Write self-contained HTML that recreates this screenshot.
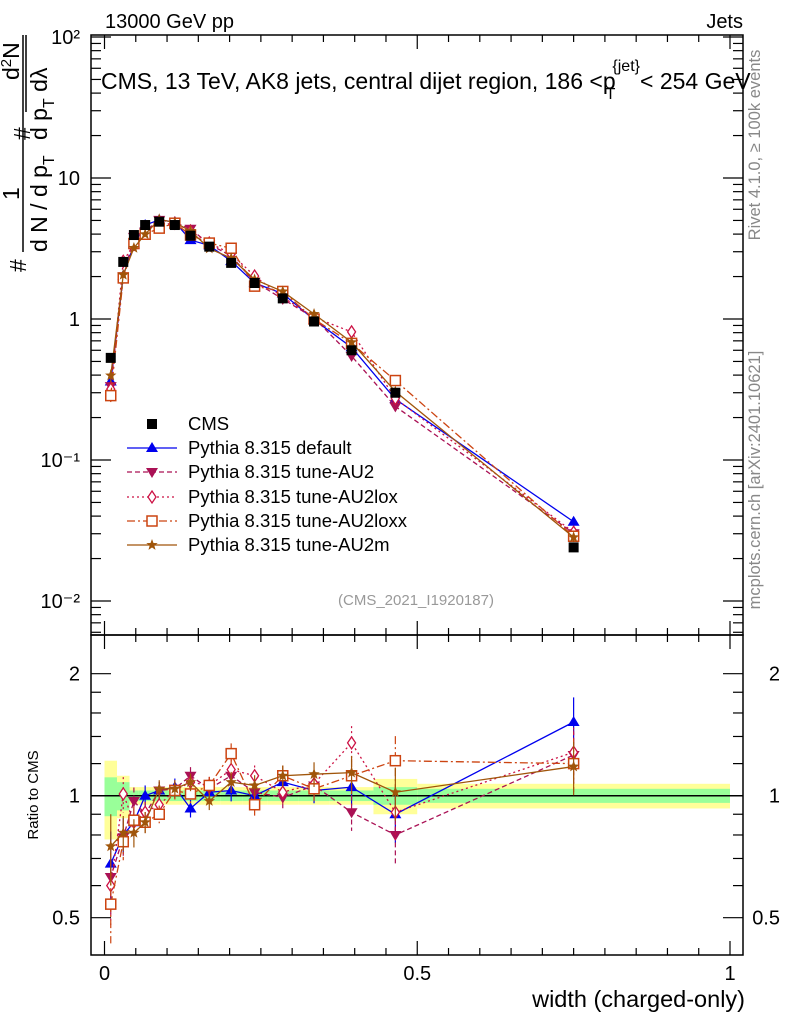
<!DOCTYPE html>
<html><head><meta charset="utf-8"><style>
body{margin:0;background:#fff}
svg{display:block;font-family:"Liberation Sans",sans-serif}
</style></head><body>
<svg id="chart" width="786" height="1024" viewBox="0 0 786 1024" xmlns="http://www.w3.org/2000/svg">
<text x="105" y="28" font-size="20">13000 GeV pp</text>
<text x="743" y="28" font-size="20" text-anchor="end">Jets</text>
<text x="101" y="89" font-size="23">CMS, 13 TeV, AK8 jets, central dijet region, 186 &lt;p<tspan font-size="16" dy="10" dx="-10">T</tspan><tspan font-size="16" dy="-28" dx="-3">{jet}</tspan><tspan dy="18">&lt; 254 GeV</tspan></text>
<text x="416" y="605" font-size="15" fill="#999" text-anchor="middle">(CMS_2021_I1920187)</text>
<text transform="translate(760,145) rotate(-90)" font-size="16.5" fill="#888" text-anchor="middle">Rivet 4.1.0, ≥ 100k events</text>
<text transform="translate(760,480) rotate(-90)" font-size="16.5" fill="#888" text-anchor="middle">mcplots.cern.ch [arXiv:2401.10621]</text>
<g font-size="23">
<text transform="translate(26,272) rotate(-90)">#</text>
<line x1="23" y1="35" x2="23" y2="252" stroke="#000" stroke-width="1.5"/>
<text transform="translate(19,200) rotate(-90)">1</text>
<text transform="translate(47,252) rotate(-90)">d N / d p<tspan font-size="16" dy="7">T</tspan></text>
<text transform="translate(30,140) rotate(-90)">#</text>
<line x1="26" y1="35" x2="26" y2="112" stroke="#000" stroke-width="1.5"/>
<text transform="translate(19,80) rotate(-90)">d<tspan font-size="15" dy="-8">2</tspan><tspan dy="8">N</tspan></text>
<text transform="translate(47,140) rotate(-90)">d p<tspan font-size="16" dy="7">T</tspan><tspan dy="-7"> dλ</tspan></text>
</g>
<text transform="translate(38,795) rotate(-90)" font-size="15" text-anchor="middle">Ratio to CMS</text>
<text x="745" y="1007" font-size="23.5" text-anchor="end">width (charged-only)</text>
<g id="layer"></g>
</svg>
<script>
const xCenters=[0.01,0.03,0.047,0.065,0.0875,0.1125,0.1375,0.1675,0.2025,0.24,0.285,0.335,0.395,0.465,0.75];
const binEdges=[0,0.02,0.04,0.055,0.075,0.1,0.125,0.15,0.185,0.22,0.26,0.31,0.36,0.43,0.5,1.0];
const cmsValues=[0.53,2.54,3.94,4.64,4.9,4.64,3.9,3.26,2.5,1.8,1.4,0.96,0.6,0.30,0.024];
const bandStat=[0.11,0.08,0.03,0.03,0.03,0.03,0.03,0.03,0.03,0.03,0.03,0.03,0.03,0.05,0.04];
const bandTot=[0.22,0.12,0.05,0.05,0.05,0.05,0.05,0.05,0.05,0.05,0.05,0.05,0.05,0.1,0.07];
const ratioDefault=[0.68,0.80,0.86,1.0,1.03,1.05,0.93,1.02,1.03,1.0,1.08,1.03,1.05,0.90,1.52];
const ratioAU2=[0.63,0.79,0.97,0.9,1.03,1.04,1.12,1.04,1.12,1.02,0.99,1.06,0.91,0.80,1.26];
const ratioAU2lox=[0.60,1.01,0.86,0.91,0.95,1.03,1.08,1.06,1.16,1.12,1.02,1.07,1.35,0.91,1.28];
const ratioAU2loxx=[0.54,0.77,0.87,0.86,0.90,1.03,1.01,1.06,1.27,0.95,1.12,1.04,1.12,1.22,1.2];
const ratioAU2m=[0.75,0.81,0.81,0.86,1.04,1.04,1.08,0.97,1.08,1.06,1.12,1.13,1.14,1.02,1.18];
const relErr=[0.2,0.1,0.08,0.06,0.05,0.05,0.05,0.05,0.06,0.06,0.06,0.07,0.1,0.15,0.15];
const xTicks=[0,0.5,1];
const xTickLabels=["0","0.5","1"];
const mainTicks=[100,10,1,0.1,0.01];
const mainTickLabels=["10²","10","1","10⁻¹","10⁻²"];
const ratioTicks=[2,1,0.5];
const ratioTickLabels=["2","1","0.5"];

const NS="http://www.w3.org/2000/svg";
const L=91,R=743,T=35,MB=635,RB=955;
const X=v=>104.5+v*625.5;
const Y=v=>319-141*Math.log10(v);
const YR=v=>795.7-122*Math.log2(v);
const layer=document.getElementById('layer');
function mk(tag,attrs,parent){const e=document.createElementNS(NS,tag);for(const k in attrs)e.setAttribute(k,attrs[k]);(parent||layer).appendChild(e);return e;}

const bands=mk('g',{});


for(let i=0;i<cmsValues.length;i++){
  const x1=X(binEdges[i]),x2=X(binEdges[i+1]);
  const r=mk('rect',{x:x1,y:YR(1+bandTot[i]),width:x2-x1,height:YR(1-bandTot[i])-YR(1+bandTot[i]),fill:'#ffff99'},bands);
  
  
  const g=mk('rect',{x:x1,y:YR(1+bandStat[i]),width:x2-x1,height:YR(1-bandStat[i])-YR(1+bandStat[i]),fill:'#99ff99'},bands);
  
  
}
const ref=mk('line',{x1:L,x2:R,y1:YR(1),y2:YR(1),stroke:'#000','stroke-width':1.5});



function marker(g,type,x,y,col){
  let e;
  if(type==='sq') e=mk('rect',{x:x-5,y:y-5,width:10,height:10,fill:'#000'},g);
  else if(type==='tri') e=mk('path',{d:`M${x},${y-6}L${x+6},${y+4}L${x-6},${y+4}Z`,fill:col},g);
  else if(type==='dtri') e=mk('path',{d:`M${x},${y+6}L${x+6},${y-4}L${x-6},${y-4}Z`,fill:col},g);
  else if(type==='dia') e=mk('path',{d:`M${x},${y-6}L${x+4},${y}L${x},${y+6}L${x-4},${y}Z`,fill:'#fff',stroke:col,'stroke-width':1.3},g);
  else if(type==='osq') e=mk('rect',{x:x-5,y:y-5,width:10,height:10,fill:'#fff',stroke:col,'stroke-width':1.5},g);
  else { let p='';for(let k=0;k<10;k++){const a=-Math.PI/2+k*Math.PI/5,rr=k%2?2.5:6;p+=(k?'L':'M')+(x+rr*Math.cos(a))+','+(y+rr*Math.sin(a));}
    e=mk('path',{d:p+'Z',fill:col},g);}
  return e;
}

const series=[
 {name:'default',r:ratioDefault,col:'#0000ee',dash:'',m:'tri',label:'Pythia 8.315 default'},
 {name:'au2',r:ratioAU2,col:'#aa1155',dash:'5,3',m:'dtri',label:'Pythia 8.315 tune-AU2'},
 {name:'au2lox',r:ratioAU2lox,col:'#cc1144',dash:'2,3',m:'dia',label:'Pythia 8.315 tune-AU2lox'},
 {name:'au2loxx',r:ratioAU2loxx,col:'#cc4411',dash:'8,3,2,3',m:'osq',label:'Pythia 8.315 tune-AU2loxx'},
 {name:'au2m',r:ratioAU2m,col:'#a0550a',dash:'',m:'star',label:'Pythia 8.315 tune-AU2m'}
];

series.forEach(s=>{
  const g=mk('g',{});
  
  
  const vals=cmsValues.map((c,i)=>c*s.r[i]);
  mk('polyline',{points:vals.map((v,i)=>X(xCenters[i])+','+Y(v)).join(' '),fill:'none',stroke:s.col,'stroke-width':1.3,'stroke-dasharray':s.dash},g);
  mk('polyline',{points:s.r.map((v,i)=>X(xCenters[i])+','+YR(v)).join(' '),fill:'none',stroke:s.col,'stroke-width':1.3,'stroke-dasharray':s.dash},g);
  vals.forEach((v,i)=>{
    const x=X(xCenters[i]);
    mk('line',{x1:x,x2:x,y1:Y(v*(1+relErr[i]*0.5)),y2:Y(v*(1-relErr[i]*0.5)),stroke:s.col,'stroke-width':1.2},g);
    const p=marker(g,s.m,x,Y(v),s.col);
    
    
    const rv=s.r[i];
    mk('line',{x1:x,x2:x,y1:YR(rv*(1+relErr[i])),y2:YR(rv*(1-relErr[i])),stroke:s.col,'stroke-width':1.2,'stroke-dasharray':s.dash},g);
    const q=marker(g,s.m,x,YR(rv),s.col);
    
    
  });
});
const cg=mk('g',{});


cmsValues.forEach((v,i)=>{
  const p=marker(cg,'sq',X(xCenters[i]),Y(v),'#000');
  
  
});

const lg=mk('g',{});


const ly=[424,448,472,497,521,545];
const cmsLe=mk('g',{},lg);


marker(cmsLe,'sq',152,ly[0],'#000');
mk('text',{x:188,y:ly[0]+6,'font-size':18.5},cmsLe).textContent='CMS';
series.forEach((s,k)=>{
  const e=mk('g',{},lg);
  
  
  const y=ly[k+1];
  mk('line',{x1:127,x2:177,y1:y,y2:y,stroke:s.col,'stroke-width':1.3,'stroke-dasharray':s.dash},e);
  marker(e,s.m,152,y,s.col);
  mk('text',{x:188,y:y+6,'font-size':18.5},e).textContent=s.label;
});

const fr=mk('g',{fill:'none',stroke:'#000','stroke-width':1.5});


mk('rect',{x:L,y:T,width:R-L,height:MB-T},fr);
mk('rect',{x:L,y:MB,width:R-L,height:RB-MB},fr);

const ax=mk('g',{stroke:'#000','stroke-width':1.2});


for(let k=0;k<=20;k++){
  const v=k*0.05,x=X(v),len=(k%10===0)?14:7;
  [[T,1],[MB,-1],[MB,1],[RB,-1]].forEach(([y0,d])=>mk('line',{x1:x,x2:x,y1:y0,y2:y0+d*len},ax));
}
xTicks.forEach((v,i)=>{
  const t=mk('text',{x:X(v),y:980,'font-size':20,'text-anchor':'middle'});
  t.textContent=xTickLabels[i];
  
  
});
for(let d=-3;d<=2;d++){for(let m=1;m<10;m++){
  const v=m*Math.pow(10,d),y=Y(v);if(y<T||y>MB)continue;
  const len=m===1?20:10;
  mk('line',{x1:L,x2:L+len,y1:y,y2:y},ax);mk('line',{x1:R,x2:R-len,y1:y,y2:y},ax);
}}
mainTicks.forEach((v,i)=>{
  const t=mk('text',{x:80,y:Y(v)+7,'font-size':20,'text-anchor':'end'});
  t.textContent=mainTickLabels[i];
  
  
});
[0.5,0.6,0.7,0.8,0.9,1,1.2,1.4,1.6,1.8,2].forEach(v=>{
  const y=YR(v),len=(v===0.5||v===1||v===2)?20:10;
  mk('line',{x1:L,x2:L+len,y1:y,y2:y},ax);mk('line',{x1:R,x2:R-len,y1:y,y2:y},ax);
});
ratioTicks.forEach((v,i)=>{
  const t=mk('text',{x:80,y:YR(v)+7,'font-size':20,'text-anchor':'end'});
  t.textContent=ratioTickLabels[i];
  
  
  const t2=mk('text',{x:780,y:YR(v)+7,'font-size':20,'text-anchor':'end'});
  t2.textContent=ratioTickLabels[i];
  
  
});
</script>
</body></html>
